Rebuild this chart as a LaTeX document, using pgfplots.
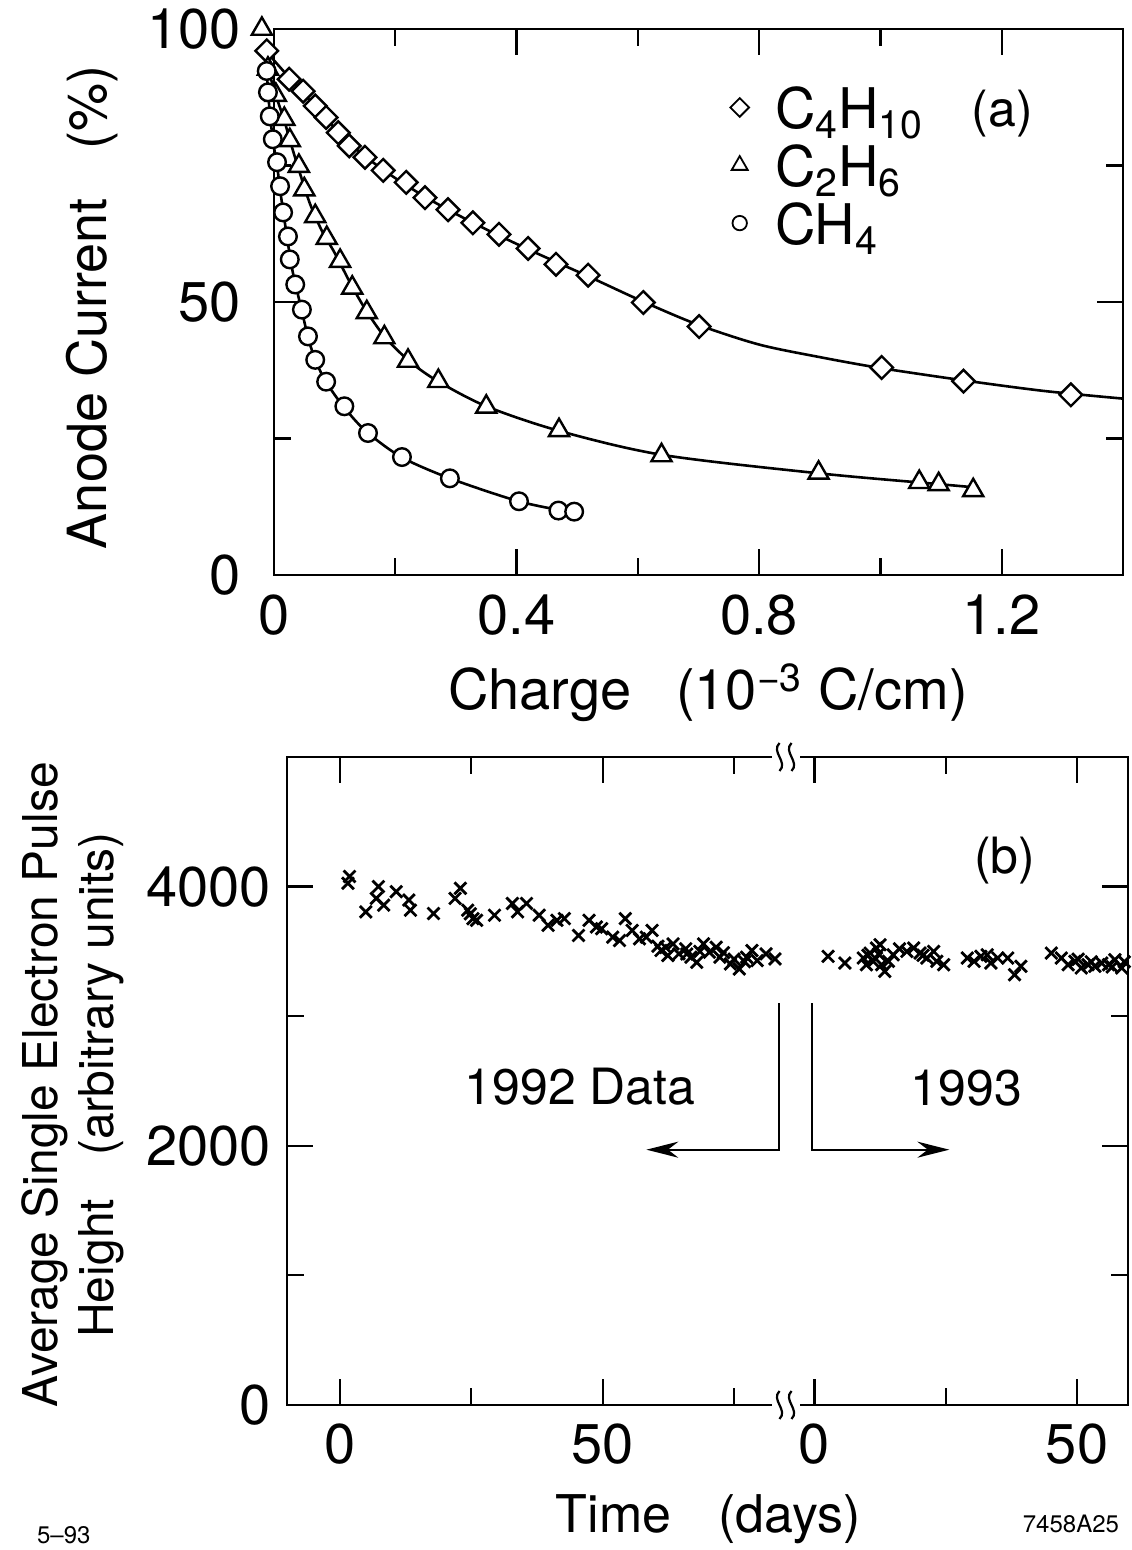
\documentclass[border=0pt]{standalone}
\usepackage{fontspec}
\setmainfont{TeX Gyre Heros}
\usepackage{pgfplots}
\pgfplotsset{compat=1.18}
\usetikzlibrary{arrows.meta}

\newcommand\tickfont{\fontsize{28}{30}\selectfont}
\newcommand\labfont{\fontsize{27}{29}\selectfont}

\pgfplotsset{
  common/.style={
    scale only axis,
    anchor=south west,
    axis line style={line width=1.4pt},
    tick style={line width=1.1pt, black},
    major tick length=13pt, minor tick length=8.5pt,
    tick label style={font=\tickfont},
    scaled ticks=false,
  }
}

\begin{document}
\begin{tikzpicture}
\useasboundingbox (0,0) rectangle (565.5pt,775pt);

% ---------------- panel (a) ----------------
\begin{axis}[common,
  at={(137pt,487.5pt)},
  width=424.5pt, height=273pt,
  xmin=0, xmax=1.4, ymin=0, ymax=100,
  clip=false,
  xtick={0,0.4,0.8,1.2}, xticklabels={0,0.4,0.8,1.2},
  minor xtick={0.2,0.6,1.0},
  ytick={0,50,100}, yticklabels={0,50,100},
  minor ytick={25,75},
  xticklabel style={yshift=-6.5pt},
  yticklabel style={xshift=-13pt},
  xlabel={Charge\hspace{0.8em}(10\textsuperscript{−3} C/cm)},
  xlabel style={at={(axis description cs:0.511,-0.247)}, anchor=base, font=\fontsize{28}{30}\selectfont},
  ylabel={Anode Current\hspace{0.9em}(\%)},
  ylabel style={at={(axis description cs:-0.214,0.49)}, anchor=center, font=\labfont},
  legend style={draw=none, fill=none, at={(axis description cs:0.530,0.910)}, anchor=north west,
    font=\tickfont, row sep=4pt, nodes={text depth=0pt},
    /tikz/every odd column/.append style={column sep=11pt}},
  legend cell align=left,
]
% fitted curves
\addplot[forget plot, smooth, line width=1.3pt] coordinates {
(-0.01,95.5) (0.03,90.5) (0.07,85.6) (0.12,79.5) (0.18,74.2) (0.25,69.2) (0.33,64.4)
(0.42,59.6) (0.52,54.6) (0.61,50.0) (0.70,45.8) (0.80,42.2) (0.90,39.9) (1.00,37.9)
(1.14,35.6) (1.27,33.7) (1.40,32.3)};
\addplot[forget plot, smooth, line width=1.3pt] coordinates {
(-0.010,92.7) (0.003,87.9) (0.017,83.2) (0.03,78.2) (0.045,72.8) (0.06,67.8) (0.08,62.8)
(0.10,59.0) (0.13,52.6) (0.155,47.9) (0.185,43.3) (0.225,39.0) (0.27,35.5) (0.35,30.9)
(0.47,26.4) (0.64,22.0) (0.90,18.6) (1.10,16.6) (1.15,16.1)};
\addplot[forget plot, smooth, line width=1.3pt] coordinates {
(-0.012,92.3) (-0.008,86.0) (-0.002,79.8) (0.005,75.0) (0.012,69.0) (0.02,63.0) (0.03,56.0)
(0.045,48.8) (0.06,42.0) (0.08,36.5) (0.11,31.5) (0.15,26.5) (0.21,21.6) (0.29,17.7)
(0.40,13.6) (0.47,11.9)};
% data points
\addplot[forget plot, only marks, mark=square*, mark size=4pt,
  mark options={rotate=45, fill=white, draw=black, line width=1.2pt}] coordinates {
(-0.012,96.0) (0.025,90.8) (0.048,88.6) (0.068,85.9) (0.086,83.8) (0.106,81.0) (0.124,78.6)
(0.150,76.5) (0.180,74.1) (0.218,71.9) (0.249,69.1) (0.287,66.9) (0.328,64.5) (0.371,62.4)
(0.419,59.8) (0.465,56.9) (0.518,54.9) (0.609,49.9) (0.701,45.5) (1.002,38.0) (1.137,35.5)
(1.314,33.0)};
\addplot[forget plot, only marks, mark=triangle*, mark size=5.8pt,
  mark options={fill=white, draw=black, line width=1.2pt}] coordinates {
(-0.020,100.0) (-0.010,92.7) (0.003,87.9) (0.017,83.5) (0.026,79.6) (0.041,74.9) (0.050,70.6)
(0.068,65.7) (0.087,61.7) (0.109,57.5) (0.129,52.6) (0.153,48.1) (0.182,43.5) (0.221,39.2)
(0.271,35.5) (0.350,30.8) (0.470,26.5) (0.639,21.9) (0.898,18.7) (1.064,17.0) (1.096,16.6)
(1.153,15.5)};
\addplot[forget plot, only marks, mark=*, mark size=4.4pt,
  mark options={fill=white, draw=black, line width=1.2pt}] coordinates {
(-0.012,92.3) (-0.010,88.4) (-0.007,84.0) (-0.002,79.8) (0.005,75.6) (0.010,71.2) (0.015,66.4)
(0.023,62.0) (0.026,57.8) (0.035,53.2) (0.046,48.6) (0.056,43.7) (0.068,39.4) (0.086,35.4)
(0.116,30.9) (0.155,26.0) (0.211,21.6) (0.290,17.7) (0.404,13.5) (0.469,11.8) (0.495,11.6)};
% legend
\addlegendimage{only marks, mark=square*, mark size=3.3pt, mark options={rotate=45, fill=white, draw=black, line width=0.9pt}}
\addlegendentry{C\textsubscript{4}H\textsubscript{10}}
\addlegendimage{only marks, mark=triangle*, mark size=4.6pt, mark options={fill=white, draw=black, line width=0.9pt}}
\addlegendentry{C\textsubscript{2}H\textsubscript{6}}
\addlegendimage{only marks, mark=*, mark size=3.6pt, mark options={fill=white, draw=black, line width=0.9pt}}
\addlegendentry{CH\textsubscript{4}}
\node[font=\fontsize{25}{27}\selectfont] at (axis cs:1.201,84.5) {(a)};
\end{axis}

% ---------------- panel (b) ----------------
\begin{axis}[common,
  at={(143.5pt,72.5pt)},
  width=420.5pt, height=324pt,
  xmin=-10.1, xmax=150, ymin=0, ymax=5000,
  clip mode=individual,
  xtick={0,50,90.3,140.3}, xticklabels={0,50,0,50},
  minor xtick={25,75,115.3},
  ytick={0,2000,4000}, yticklabels={0,2000,4000},
  minor ytick={1000,3000},
  xticklabel style={yshift=-5.7pt},
  yticklabel style={xshift=-4.5pt},
  xlabel={Time\hspace{0.9em}(days)},
  xlabel style={at={(axis description cs:0.501,-0.1975)}, anchor=base, font=\fontsize{26}{28}\selectfont},
  ylabel={Average Single Electron Pulse\\Height\hspace{0.9em}(arbitrary units)},
  ylabel style={at={(axis description cs:-0.255,0.494)}, anchor=center, align=center,
    font=\fontsize{24}{28}\selectfont},
  after end axis/.code={
    \begin{scope}[shift={(axis cs:84.8,5000)}]
      \fill[white] (-7pt,-1.8pt) rectangle (7pt,1.8pt);
      \draw[line width=1.1pt] (-3pt,7pt) .. controls (-7.5pt,2.5pt) and (1.5pt,-2.5pt) .. (-3pt,-7pt);
      \draw[line width=1.1pt] (3pt,7pt) .. controls (-1.5pt,2.5pt) and (7.5pt,-2.5pt) .. (3pt,-7pt);
    \end{scope}
    \begin{scope}[shift={(axis cs:84.8,0)}]
      \fill[white] (-7pt,-1.8pt) rectangle (7pt,1.8pt);
      \draw[line width=1.1pt] (-3pt,7pt) .. controls (-7.5pt,2.5pt) and (1.5pt,-2.5pt) .. (-3pt,-7pt);
      \draw[line width=1.1pt] (3pt,7pt) .. controls (-1.5pt,2.5pt) and (7.5pt,-2.5pt) .. (3pt,-7pt);
    \end{scope}
  },
]
% 1992 data (days)
\addplot[only marks, mark=x, mark size=4.2pt, mark options={line width=1.4pt}] coordinates {
(1.8,4078) (1.5,4026) (4.9,3805) (7.3,4000) (6.9,3909) (8.3,3857) (10.7,3961) (13.1,3896)
(13.4,3818) (17.8,3792) (22.9,3987) (21.9,3909) (24.3,3818) (25.3,3753) (26.0,3740) (24.8,3790)
(29.4,3779) (32.8,3870) (35.5,3870) (33.8,3805) (37.9,3779) (39.6,3701) (41.3,3740) (42.7,3753)
(45.4,3623) (47.4,3740) (48.8,3688) (49.8,3675) (51.9,3610) (53.2,3584) (54.3,3753) (55.6,3662)
(57.0,3597) (59.4,3662) (58.3,3610) (61.1,3507) (62.4,3468) (63.4,3558) (64.5,3481) (65.8,3520)
(66.8,3455) (67.9,3416) (69.2,3558) (70.3,3494) (71.6,3532) (72.3,3455) (74.3,3403) (76.0,3364)
(77.4,3455) (78.4,3507) (79.4,3429) (81.1,3481) (82.8,3442) (60.5,3540) (62.0,3530) (66.0,3480)
(68.5,3500) (73.0,3490) (75.0,3440) (77.0,3420)};
% 1993 data (day + 90.5)
\addplot[only marks, mark=x, mark size=4.2pt, mark options={line width=1.4pt}] coordinates {
(92.9,3462) (96.1,3410) (99.6,3449) (100.9,3487) (102.1,3526) (102.8,3551) (103.1,3397) (103.7,3346)
(101.5,3423) (100.2,3397) (104.4,3423) (105.3,3474) (107.9,3500) (109.2,3526) (110.4,3487) (111.7,3449)
(113.0,3500) (113.6,3423) (114.9,3397) (119.4,3449) (120.7,3423) (122.0,3462) (123.2,3474) (123.9,3410)
(125.2,3449) (127.1,3449) (128.4,3320) (129.6,3385) (135.4,3487) (137.3,3449) (138.6,3397) (139.9,3423)
(141.1,3372) (142.4,3397) (143.7,3385) (145.0,3410) (146.3,3397) (147.5,3436) (148.8,3372) (150.1,3385)
(151.4,3372) (100.5,3470) (102.5,3480) (106.5,3520) (111.0,3470) (140.5,3440) (143.0,3420) (147.0,3380)
(149.3,3420) (150.7,3400)};
\draw[line width=1.1pt, -{Stealth[length=16pt,width=8pt]}] (axis cs:83.6,3100) -- (axis cs:83.6,1970) -- (axis cs:58.3,1970);
\draw[line width=1.1pt, -{Stealth[length=16pt,width=8pt]}] (axis cs:89.9,3100) -- (axis cs:89.9,1970) -- (axis cs:116,1970);
\node[font=\fontsize{25}{27}\selectfont, anchor=base] at (axis cs:45.7,2319) {1992 Data};
\node[font=\fontsize{25}{27}\selectfont, anchor=base] at (axis cs:119.2,2309) {1993};
\node[font=\fontsize{25}{27}\selectfont] at (axis cs:126.5,4198) {(b)};
\end{axis}

\node[font=\fontsize{12}{14}\selectfont, anchor=base west] at (15pt,3pt) {5–93};
\node[font=\fontsize{12}{14}\selectfont, anchor=base east] at (563pt,9pt) {7458A25};
\end{tikzpicture}
\end{document}
